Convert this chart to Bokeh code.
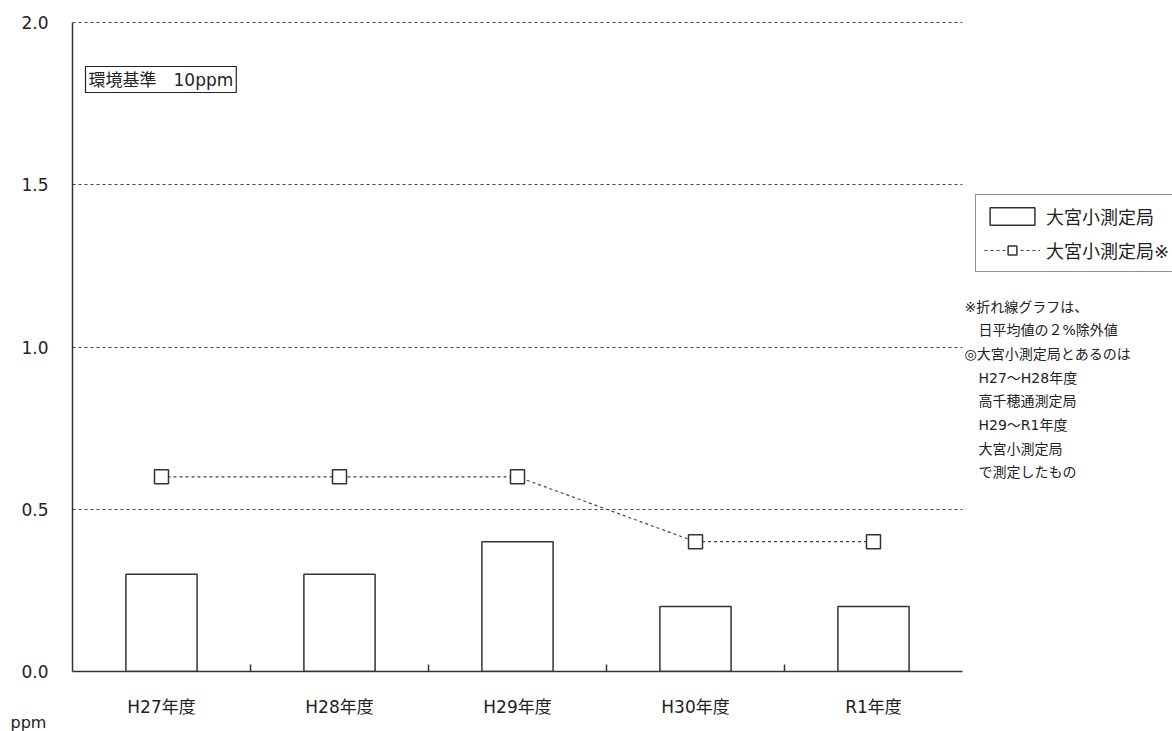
from bokeh.plotting import figure
from bokeh.models import (Range1d, FixedTicker, Label, Legend, LegendItem, ColumnDataSource, Title)
from bokeh.embed import file_html
from bokeh.resources import INLINE

categories = ["H27年度", "H28年度", "H29年度", "H30年度", "R1年度"]
bar_values = [0.3, 0.3, 0.4, 0.2, 0.2]
line_values = [0.6, 0.6, 0.6, 0.4, 0.4]
y_ticks = [0.0, 0.5, 1.0, 1.5, 2.0]
series_names = ["大宮小測定局", "大宮小測定局※"]
note_lines = ["※折れ線グラフは、", "　日平均値の２%除外値", "◎大宮小測定局とあるのは",
              "　H27～H28年度", "　高千穂通測定局", "　H29～R1年度", "　大宮小測定局", "　で測定したもの"]
standard_text = "環境基準\u300010ppm"
unit_text = "ppm"

FONT = "DejaVu Sans, Noto Sans CJK JP"
TXT = "#222222"

N = len(categories)
xs = [i + 0.5 for i in range(N)]
src = ColumnDataSource(dict(x=xs, bar=bar_values, line=line_values))

# pixel geometry of the category area
LEFT, RIGHT_END, TOP, BOTTOM = 72, 962, 22, 671
PX_PER_CAT = (RIGHT_END - LEFT) / N
PX_PER_UNIT = (BOTTOM - TOP) / y_ticks[-1]
W, H = 1172, 731
x_end = (W - LEFT) / PX_PER_CAT
y_end = y_ticks[-1] + 2 / PX_PER_UNIT

p = figure(width=W, height=H, output_backend="svg", toolbar_location=None,
           x_range=Range1d(0, x_end), y_range=Range1d(0, y_end),
           min_border_left=LEFT, min_border_right=0, min_border_top=TOP - 2,
           min_border_bottom=H - BOTTOM)
p.outline_line_color = None
p.background_fill_color = "white"
p.border_fill_color = "white"

# axes
xa = p.xaxis[0]
xa.bounds = (0, N)
xa.ticker = FixedTicker(ticks=xs, minor_ticks=list(range(1, N)))
xa.major_label_overrides = {x: c for x, c in zip(xs, categories)}
xa.major_tick_in = 0
xa.major_tick_out = 0
xa.minor_tick_in = 7
xa.minor_tick_out = 0
xa.minor_tick_line_color = "#333333"
xa.minor_tick_line_width = 1.5
xa.axis_line_color = "#333333"
xa.axis_line_width = 1.5
xa.major_label_text_font = FONT
xa.major_label_text_font_size = "17px"
xa.major_label_text_color = TXT
xa.major_label_standoff = 25

ya = p.yaxis[0]
ya.bounds = (0, y_ticks[-1])
ya.ticker = FixedTicker(ticks=y_ticks)
ya.major_label_overrides = {v: f"{v:.1f}" for v in y_ticks}
ya.major_tick_in = 0
ya.major_tick_out = 0
ya.minor_tick_line_color = None
ya.axis_line_color = "#333333"
ya.axis_line_width = 1.5
ya.major_label_text_font = FONT
ya.major_label_text_font_size = "17px"
ya.major_label_text_color = TXT
ya.major_label_standoff = 24

p.xgrid.visible = False
g = p.ygrid[0]
g.ticker = FixedTicker(ticks=y_ticks[1:])
g.cross_bounds = (0, N)
g.grid_line_color = "#444444"
g.grid_line_dash = "3 3"
g.grid_line_width = 1.2

# data
bars = p.vbar(x="x", top="bar", width=0.4, source=src, fill_color="white",
              line_color="#333333", line_width=1.5)
ln = p.line(x="x", y="line", source=src, line_color="#444444", line_dash="3 3", line_width=1.2)
sc = p.scatter(x="x", y="line", source=src, marker="square", size=14, fill_color="white",
               line_color="#333333", line_width=1.5)

legend = Legend(items=[LegendItem(label=series_names[0], renderers=[bars]),
                       LegendItem(label=series_names[1], renderers=[ln, sc])],
                location=(975 - LEFT, BOTTOM - 272), orientation="vertical",
                border_line_color="#222222", border_line_width=1.2,
                background_fill_color="white", background_fill_alpha=1,
                label_text_font=FONT, label_text_font_size="18px", label_text_color=TXT,
                glyph_width=56, glyph_height=22, label_standoff=6,
                padding=8, spacing=8, margin=0)
p.add_layout(legend, "center")

def px2x(px):
    return (px - LEFT) / PX_PER_CAT

def py2y(py):
    return (BOTTOM - py) / PX_PER_UNIT

p.add_layout(Label(x=px2x(85), y=py2y(66), text=standard_text, text_baseline="top",
                   text_font=FONT, text_font_size="17px", text_color=TXT,
                   border_line_color="#222222", border_line_width=1.2,
                   background_fill_color="white", padding=3))

for i, t in enumerate(note_lines):
    p.add_layout(Label(x=px2x(964), y=py2y(306 + i * 23.7), text=t, text_baseline="middle",
                       text_font=FONT, text_font_size="14px", text_color=TXT))

p.add_layout(Title(text=unit_text, align="left", offset=10 - LEFT, standoff=-14,
                   vertical_align="top",
                   text_font=FONT, text_font_size="16px", text_font_style="normal",
                   text_color=TXT), "below")

open("out.html", "w").write(file_html(p, INLINE))
